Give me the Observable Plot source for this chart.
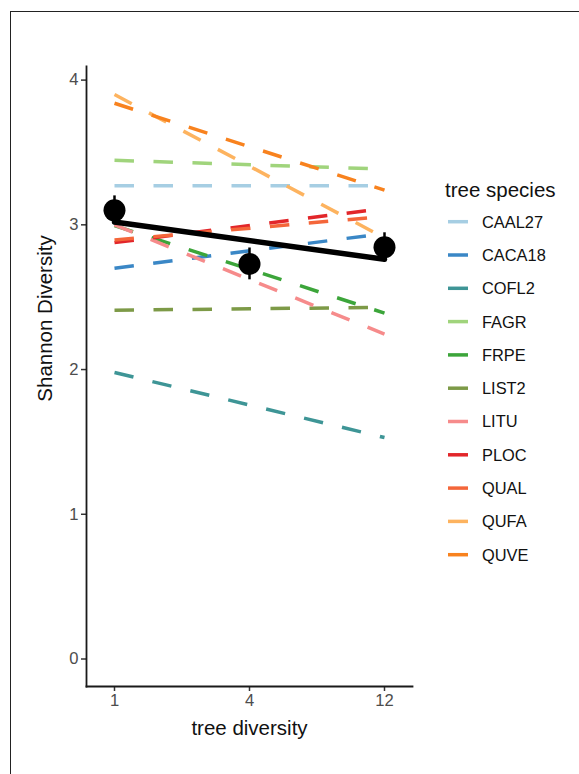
<!DOCTYPE html>
<html>
<head>
<meta charset="utf-8">
<script src="https://cdn.jsdelivr.net/npm/d3@7"></script>
<script src="https://cdn.jsdelivr.net/npm/@observablehq/plot@0.6"></script>
<style>
  html, body { margin: 0; padding: 0; background: #fff; }
  #wrap { position: relative; width: 579px; height: 774px; overflow: hidden; }
  #border { position: absolute; left: 10px; top: 11px; width: 700px; height: 900px;
            border-left: 1.5px solid #222; border-top: 1.5px solid #222; box-sizing: border-box; }
  #chart, #legend { position: absolute; left: 0; top: 0; }
</style>
</head>
<body>
<div id="wrap">
  <div id="border"></div>
  <div id="chart"></div>
  <svg id="legend" width="579" height="774"></svg>
</div>
<script>
// ---- data ----
const species = ["CAAL27","CACA18","COFL2","FAGR","FRPE","LIST2","LITU","PLOC","QUAL","QUFA","QUVE"];
const speciesColors = ["#a6cee3","#3a87c6","#3e9596","#a0d47c","#3ca53a","#7d9a47","#f68b8b","#e2262a","#f4663a","#fdb35f","#f8821e"];
const diversityLevels = ["1","4","12"];
// species fitted Shannon diversity at tree diversity 1 and 12
const speciesStart = [3.27, 2.70, 1.98, 3.446, 2.995, 2.41, 3.00, 2.877, 2.895, 3.90, 3.84];
const speciesEnd   = [3.27, 2.94, 1.53, 3.385, 2.39, 2.43, 2.245, 3.114, 3.058, 2.91, 3.24];
// overall means and standard errors at each tree diversity level
const meanShannon = [3.10, 2.73, 2.845];
const seShannon = [0.10, 0.11, 0.10];
// overall fitted line at tree diversity 1 and 12
const fitShannon = [3.02, 2.762];
const yTicks = [0, 1, 2, 3, 4];
const yDomain = [-0.19, 4.094];
const xTitle = "tree diversity";
const yTitle = "Shannon Diversity";
const legendTitle = "tree species";

// ---- tables ----
const lineData = species.flatMap((s, i) => [
  {species: s, diversity: diversityLevels[0], shannon: speciesStart[i]},
  {species: s, diversity: diversityLevels[2], shannon: speciesEnd[i]}
]);
const fitData = [
  {diversity: diversityLevels[0], shannon: fitShannon[0]},
  {diversity: diversityLevels[2], shannon: fitShannon[1]}
];
const meanData = diversityLevels.map((d, i) => ({diversity: d, mean: meanShannon[i], se: seShannon[i]}));

const font = "'Liberation Sans', Arial, Helvetica, sans-serif";

const chart = Plot.plot({
  width: 579,
  height: 774,
  marginLeft: 86,
  marginRight: 167,
  marginTop: 66,
  marginBottom: 88,
  style: {fontFamily: font, fontSize: "16.6px", color: "#4d4d4d", background: "transparent"},
  x: {type: "point", domain: diversityLevels, padding: 0.2},
  y: {domain: yDomain},
  color: {domain: species, range: speciesColors},
  marks: [
    Plot.axisX({tickSize: 5, tickPadding: 3, label: null, stroke: "#333", strokeWidth: 1.5}),
    Plot.axisY({ticks: yTicks, tickFormat: d => String(d), tickSize: 5, tickPadding: 3, label: null, stroke: "#333", strokeWidth: 1.5}),
    Plot.frame({anchor: "left", stroke: "#1a1a1a", strokeWidth: 1.8}),
    Plot.frame({anchor: "bottom", stroke: "#1a1a1a", strokeWidth: 1.8}),
    Plot.line(lineData, {x: "diversity", y: "shannon", z: "species", stroke: "species",
      strokeWidth: 3.5, strokeDasharray: "19.5,19.5", strokeLinecap: "butt"}),
    Plot.line(fitData, {x: "diversity", y: "shannon", stroke: "black", strokeWidth: 5.5}),
    Plot.ruleX(meanData, {x: "diversity", y1: d => d.mean - d.se, y2: d => d.mean + d.se, stroke: "black", strokeWidth: 2.5}),
    Plot.dot(meanData, {x: "diversity", y: "mean", r: 11, fill: "black"}),
    Plot.text([xTitle], {frameAnchor: "bottom", dy: 42, fontSize: 20.5, fill: "#111", lineAnchor: "middle", textAnchor: "middle"}),
    Plot.text([yTitle], {frameAnchor: "left", rotate: -90, dx: -41, dy: -58, fontSize: 20.5, fill: "#111", lineAnchor: "middle", textAnchor: "middle"})
  ]
});
document.getElementById("chart").appendChild(chart);

// ---- legend ----
const leg = d3.select("#legend").style("font-family", font);
leg.append("text").attr("x", 445).attr("y", 197).attr("font-size", 20.5).attr("fill", "#111").text(legendTitle);
const items = leg.selectAll("g.item").data(species).join("g")
  .attr("transform", (d, i) => `translate(0, ${221.7 + i * 33.3})`);
items.append("line").attr("x1", 448).attr("x2", 468).attr("y1", 0).attr("y2", 0)
  .attr("stroke", (d, i) => speciesColors[i]).attr("stroke-width", 3.5);
items.append("text").attr("x", 482).attr("y", 0).attr("dy", "0.36em")
  .attr("font-size", 16.4).attr("fill", "#111").text(d => d);
</script>
</body>
</html>
